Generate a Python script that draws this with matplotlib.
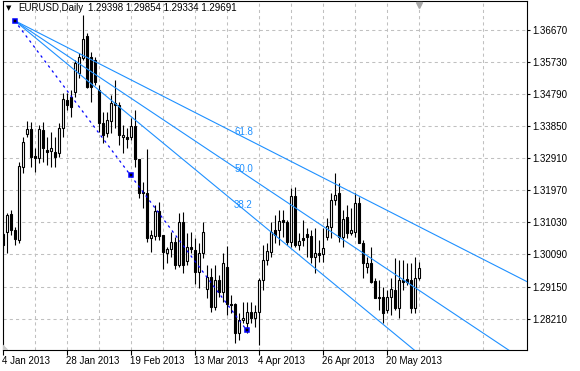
#!/usr/bin/env python3

import matplotlib
matplotlib.use("Agg")
import matplotlib.pyplot as plt
import matplotlib.transforms as mtransforms
from matplotlib.patches import Polygon
import numpy as np

plt.rcParams["font.family"] = ["Liberation Sans", "DejaVu Sans"]

symbol = "EURUSD,Daily"

# daily bars, 4 Jan 2013 .. 30 May 2013 (bar index 0 = 4 Jan)
opens = [
    1.30688, 1.30755, 1.31273, 1.30805, 1.30512,
    1.32657, 1.33604, 1.33759, 1.32978, 1.32902,
    1.33730, 1.33145, 1.33125, 1.33095, 1.33066,
    1.33780, 1.34608, 1.34687, 1.34851, 1.35389,
    1.35845, 1.36480, 1.35874, 1.35778, 1.34900,
    1.33944, 1.33651, 1.34002, 1.34511, 1.34461,
    1.33534, 1.33517, 1.33517, 1.33847, 1.32873,
    1.31925, 1.31896, 1.30562, 1.30638, 1.31361,
    1.30659, 1.30123, 1.30249, 1.30463, 1.29781,
    1.31030, 1.29898, 1.30316, 1.30220, 1.29562,
    1.30123, 1.29070, 1.29439, 1.28561, 1.29342,
    1.29000, 1.29731, 1.28640, 1.28640, 1.27783,
    1.28172, 1.28076, 1.28415, 1.28222, 1.28415,
    1.29342, 1.29927, 1.30170, 1.30805, 1.30805,
    1.31097, 1.31048, 1.30463, 1.31799, 1.30366,
    1.30571, 1.30688, 1.30629, 1.30006, 1.30123,
    1.30103, 1.30591, 1.30901, 1.31682, 1.31878,
    1.30609, 1.31194, 1.30726, 1.30755, 1.31586,
    1.30433, 1.29731, 1.29831, 1.29313, 1.28854,
    1.28854, 1.28465, 1.28854, 1.29050, 1.28514,
    1.29342, 1.29363, 1.29342, 1.28514, 1.29398,
]
highs = [
    1.30746, 1.31293, 1.31390, 1.30901, 1.32803,
    1.33534, 1.34002, 1.33973, 1.33195, 1.33876,
    1.33973, 1.33534, 1.33680, 1.33534, 1.33926,
    1.34804, 1.34804, 1.34900, 1.35778, 1.35974,
    1.37094, 1.36559, 1.36021, 1.35874, 1.35047,
    1.34265, 1.34265, 1.34754, 1.35193, 1.34558,
    1.33876, 1.33780, 1.34072, 1.34315, 1.32873,
    1.32218, 1.33166, 1.30805, 1.31536, 1.31633,
    1.30659, 1.30316, 1.30755, 1.30609, 1.31293,
    1.31340, 1.30708, 1.30738, 1.30571, 1.30416,
    1.31048, 1.29781, 1.29684, 1.29781, 1.29488,
    1.30123, 1.30337, 1.28903, 1.28661, 1.28368,
    1.28707, 1.28707, 1.28707, 1.28611, 1.29392,
    1.30366, 1.30416, 1.31048, 1.31244, 1.31390,
    1.31390, 1.31097, 1.32025, 1.32072, 1.30708,
    1.31097, 1.30855, 1.30805, 1.30855, 1.30512,
    1.30855, 1.31147, 1.31878, 1.32463, 1.32171,
    1.31390, 1.31536, 1.31440, 1.31878, 1.31779,
    1.30512, 1.30024, 1.30316, 1.29392, 1.29342,
    1.29146, 1.29050, 1.29392, 1.29977, 1.29927,
    1.29927, 1.29831, 1.29831, 1.30024, 1.29854,
]
lows = [
    1.30161, 1.30132, 1.30659, 1.30366, 1.30416,
    1.32472, 1.33534, 1.32657, 1.32510, 1.32756,
    1.32803, 1.32706, 1.32657, 1.32639, 1.32949,
    1.33534, 1.34315, 1.34119, 1.34704, 1.35243,
    1.35778, 1.34950, 1.34558, 1.35047, 1.33680,
    1.33341, 1.33534, 1.33634, 1.33780, 1.33291,
    1.33049, 1.33195, 1.33438, 1.32657, 1.31732,
    1.31440, 1.30463, 1.30170, 1.30512, 1.30512,
    1.29655, 1.29831, 1.30024, 1.29655, 1.29731,
    1.29538, 1.29781, 1.30123, 1.29225, 1.29099,
    1.29986, 1.28807, 1.28415, 1.28465, 1.28854,
    1.28707, 1.28318, 1.28368, 1.27508, 1.27587,
    1.28076, 1.27783, 1.28076, 1.27976, 1.27441,
    1.29050, 1.29781, 1.30024, 1.30416, 1.30366,
    1.30609, 1.30366, 1.30316, 1.30316, 1.30220,
    1.30337, 1.30024, 1.29831, 1.29538, 1.29878,
    1.29878, 1.30512, 1.30562, 1.31536, 1.30463,
    1.30316, 1.30562, 1.30659, 1.30609, 1.30416,
    1.29392, 1.29538, 1.29246, 1.28807, 1.28465,
    1.28076, 1.28368, 1.28318, 1.28465, 1.28222,
    1.29050, 1.29196, 1.28368, 1.28368, 1.29334,
]
closes = [
    1.30366, 1.31244, 1.30805, 1.30533, 1.32677,
    1.33388, 1.33759, 1.32949, 1.32902, 1.33759,
    1.33195, 1.33095, 1.33195, 1.32949, 1.33780,
    1.34628, 1.34461, 1.34412, 1.35681, 1.35857,
    1.36383, 1.34979, 1.34997, 1.35143, 1.33926,
    1.33584, 1.34023, 1.34529, 1.34461, 1.33584,
    1.33584, 1.33476, 1.33847, 1.32873, 1.31896,
    1.31878, 1.30562, 1.30659, 1.31361, 1.30638,
    1.30170, 1.30249, 1.30463, 1.29781, 1.31030,
    1.29781, 1.30316, 1.30249, 1.29562, 1.30123,
    1.30738, 1.29439, 1.28561, 1.29342, 1.29000,
    1.29848, 1.28640, 1.28611, 1.27783, 1.28172,
    1.28222, 1.28415, 1.28222, 1.28415, 1.29342,
    1.29927, 1.30190, 1.30755, 1.30659, 1.31077,
    1.31048, 1.30463, 1.31799, 1.30366, 1.30492,
    1.30498, 1.30609, 1.30006, 1.30123, 1.30082,
    1.30270, 1.30922, 1.31682, 1.31829, 1.30609,
    1.31118, 1.30726, 1.30805, 1.31586, 1.30433,
    1.29848, 1.29831, 1.29292, 1.28807, 1.28807,
    1.28368, 1.28854, 1.29070, 1.28514, 1.29342,
    1.29292, 1.29292, 1.28514, 1.29392, 1.29691,
]

date_labels = ["4 Jan 2013", "28 Jan 2013", "19 Feb 2013", "13 Mar 2013",
               "4 Apr 2013", "26 Apr 2013", "20 May 2013"]
date_bars = [0, 16, 32, 48, 64, 80, 96]

price_ticks = [1.28210, 1.29150, 1.30090, 1.31030, 1.31970,
               1.32910, 1.33850, 1.34790, 1.35730, 1.36670]

# Fibonacci fan: two anchors (bar, price) and levels
fan_start = (3, 1.36933)
fan_end = (61, 1.27880)
fan_levels = [38.2, 50.0, 61.8]


def main():
    W, H = 580, 371
    fig = plt.figure(figsize=(W / 100, H / 100), dpi=100)
    ax = fig.add_axes([2.5 / W, 21 / H, 524.8 / W, 349 / H])

    o = np.array(opens)
    c = np.array(closes)
    x = np.arange(len(o))
    up = c >= o

    ax.vlines(x, lows, highs, color="black", lw=0.8, zorder=2)
    ax.bar(x, np.abs(c - o), width=0.5, bottom=np.minimum(o, c),
           color=np.where(up, "white", "black"), edgecolor="black",
           linewidth=0.8, zorder=3)

    # fan
    t1, p1 = fan_start
    t2, p2 = fan_end
    x_end = 140
    for lvl in fan_levels:
        pt = p2 + lvl / 100 * (p1 - p2)
        slope = (pt - p1) / (t2 - t1)
        ax.plot([t1, x_end], [p1, p1 + slope * (x_end - t1)],
                color="#1e90ff", lw=0.8, zorder=4)
        ax.annotate("%.1f" % lvl, xy=(t2, pt), xytext=(-3, 1.5),
                    textcoords="offset pixels", ha="center", va="bottom",
                    color="#1e90ff", fontsize=7, zorder=5)
    ax.plot([t1, t2], [p1, p2], color="#0000ff", lw=0.9,
            linestyle=(0, (2, 3)), zorder=4)
    ax.plot([t1, (t1 + t2) / 2, t2], [p1, (p1 + p2) / 2, p2], ls="none",
            marker="s", ms=3.2, mfc="black", mec="#0000ff", mew=1.1, zorder=6)

    ax.set_xlim(0, 131.2)
    ax.set_ylim(1.27294, 1.37504)

    ax.yaxis.tick_right()
    ax.set_yticks(price_ticks)
    ax.set_yticklabels(["%.5f" % v for v in price_ticks])
    ax.tick_params(axis="y", length=2.4, width=0.8, pad=1.5, labelsize=7)

    ax.set_xticks(date_bars)
    ax.set_xticklabels(date_labels, ha="left")
    ax.set_xticks(np.arange(8, 132, 16), minor=True)
    ax.tick_params(axis="x", which="major", length=3.6, width=0.8, pad=1,
                   labelsize=7)
    ax.tick_params(axis="x", which="minor", length=0)

    ax.set_axisbelow(True)
    ax.grid(True, which="both", axis="x", color="#c0c0c0", lw=0.75,
            linestyle=(0, (3, 3)))
    ax.grid(True, which="major", axis="y", color="#c0c0c0", lw=0.75,
            linestyle=(0, (3, 3)))
    for s in ax.spines.values():
        s.set_linewidth(0.8)
        s.set_color("black")

    # chart shift marker and scale-fix corner
    trans = mtransforms.blended_transform_factory(ax.transData, ax.transAxes)
    ax.plot([len(o) - 1], [1 - 3.5 / 349], transform=trans, marker="v",
            ms=4.5, color="#a8a8a8", mec="#a8a8a8", clip_on=False, zorder=7)
    ax.add_patch(Polygon([(0, 0), (5 / 524.8, 0), (0, 5 / 349)], closed=True,
                         transform=ax.transAxes, color="#c8c8c8", zorder=7))

    # header
    ty = 1 - 8 / H
    fig.text(6 / W, ty, "\u25bc", family="DejaVu Sans", fontsize=5, va="center")
    fig.text(18 / W, ty, symbol, fontsize=7, va="center")
    last = "%.5f %.5f %.5f %.5f" % (opens[-1], highs[-1], lows[-1], closes[-1])
    fig.text(88 / W, ty, last, fontsize=7, va="center")

    fig.savefig("out.png", dpi=100)


if __name__ == "__main__":
    main()
